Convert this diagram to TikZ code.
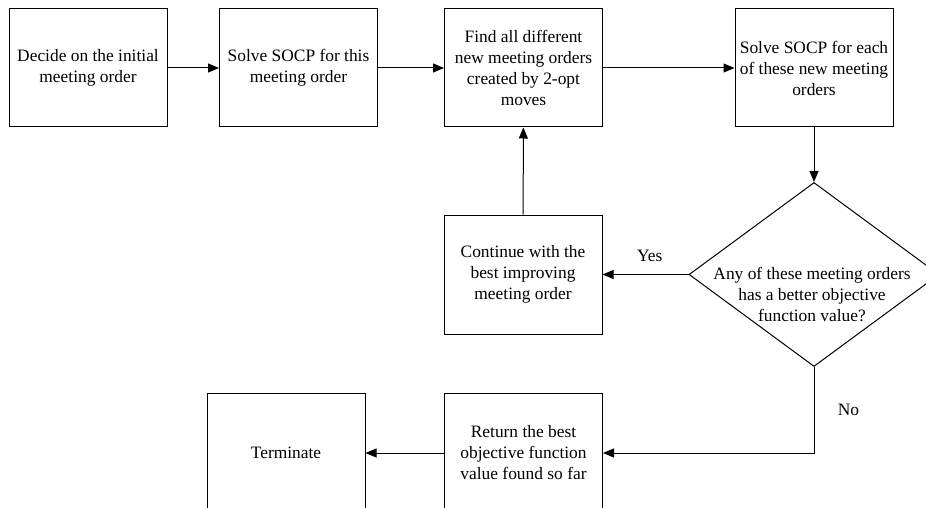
\documentclass[tikz,border=0pt]{standalone}
\usepackage{fontspec}
\setmainfont{Liberation Serif}
\usetikzlibrary{arrows.meta,shapes.geometric,positioning}
\begin{document}
\begin{tikzpicture}[x=1pt,y=-1pt,
    box/.style={draw, line width=1pt, minimum width=158pt, minimum height=118pt,
      inner sep=0pt, align=center, font=\fontsize{17.4}{21}\selectfont},
    lbl/.style={font=\fontsize{17.4}{21}\selectfont},
    arr/.style={-{Triangle[length=11pt,width=9pt]}, line width=1pt}]
  \useasboundingbox (0,0) rectangle (926,508);
  \node[box] (start) at (88,68) {Decide on the initial\\meeting order};
  \node[box] (solve) at (298.5,68) {Solve SOCP for this\\meeting order};
  \node[box] (find) at (523.5,68) {Find all different\\new meeting orders\\created by 2-opt\\moves};
  \node[box] (each) at (814,68) {Solve SOCP for each\\of these new meeting\\orders};
  \node[draw, line width=1pt, diamond, aspect=1.35, minimum width=250pt,
    minimum height=184pt, inner sep=0pt] (dec) at (814,274.5) {};
  \node[lbl, align=center] (dectxt) at (812,294) {Any of these meeting orders\\has a better objective\\function value?};
  \node[box, minimum height=119pt] (cont) at (523,274.5) {Continue with the\\best improving\\meeting order};
  \node[box, minimum height=120pt] (ret) at (523.5,453) {Return the best\\objective function\\value found so far};
  \node[box, minimum height=120pt] (term) at (286,453) {Terminate};
  \draw[arr] (start) -- (solve);
  \draw[arr] (solve) -- (find);
  \draw[arr] (find) -- (each);
  \draw[arr] (each) -- (dec);
  \draw[arr] (dec.west) -- node[lbl, above=9pt, pos=0.45] (yes) {Yes} (cont.east);
  \draw[arr] (cont) -- (find);
  \draw[arr] (dec.south) -- node[lbl, right=20pt, pos=0.5] (no) {No} (dec.south |- ret.east) -- (ret.east);
  \draw[arr] (ret) -- (term);
\end{tikzpicture}
\end{document}
